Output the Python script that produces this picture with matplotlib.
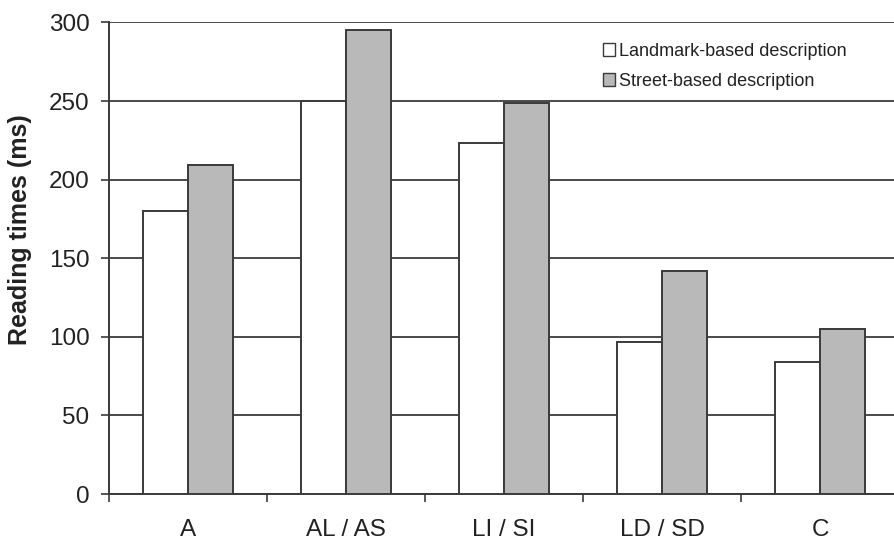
import matplotlib.pyplot as plt
import numpy as np

plt.rcParams["font.family"] = ["Liberation Sans", "DejaVu Sans"]

conditions = ["A", "AL / AS", "LI / SI", "LD / SD", "C"]
landmark = [180, 250, 223, 97, 84]
street = [209, 295, 249, 142, 105]
series_labels = ["Landmark-based description", "Street-based description"]

fig = plt.figure(figsize=(8.94, 5.43), dpi=100)
ax = fig.add_axes([0.1219, 0.0902, 0.8837, 0.8685])

x = np.arange(len(conditions))
w = 0.285
edge = "#3a3a3a"
ax.bar(x - w / 2, landmark, width=w, color="white", edgecolor=edge,
       linewidth=1.4, label=series_labels[0], zorder=3)
ax.bar(x + w / 2, street, width=w, color="#b9b9b9", edgecolor=edge,
       linewidth=1.4, label=series_labels[1], zorder=3)

ax.set_xlim(-0.5, len(conditions) - 0.5)
ax.set_ylim(0, 300)
ax.set_yticks(np.arange(0, 301, 50))
ax.yaxis.grid(True, color="#4a4a4a", linewidth=1.4, zorder=1)
ax.set_axisbelow(True)

# category labels in the middle, tick marks between groups
ax.set_xticks(x)
ax.set_xticklabels(conditions, fontsize=17.5, color="#222222")
ax.tick_params(axis="x", which="major", length=0, pad=18)
ax.set_xticks(np.arange(-0.5, len(conditions) + 0.5, 1), minor=True)
ax.tick_params(axis="x", which="minor", length=6, width=1.2, color=edge)
ax.tick_params(axis="y", length=6, width=1.2, color=edge, pad=8,
               labelsize=17.5, labelcolor="#222222")

for side in ["top", "right"]:
    ax.spines[side].set_visible(False)
for side in ["left", "bottom"]:
    ax.spines[side].set_color(edge)
    ax.spines[side].set_linewidth(1.4)

ax.set_ylabel("Reading times (ms)", fontsize=18, fontweight="bold",
              color="#222222")
ax.yaxis.set_label_coords(-0.0975, 0.56)

leg = ax.legend(loc="upper left", bbox_to_anchor=(0.625, 0.957),
                frameon=False, fontsize=13, handlelength=0.7,
                handleheight=0.7, handletextpad=0.2, labelspacing=0.72,
                borderaxespad=0, borderpad=0)
for h in leg.legend_handles:
    h.set_linewidth(1.0)
for t in leg.get_texts():
    t.set_color("#222222")

fig.savefig("out.png", dpi=100)
